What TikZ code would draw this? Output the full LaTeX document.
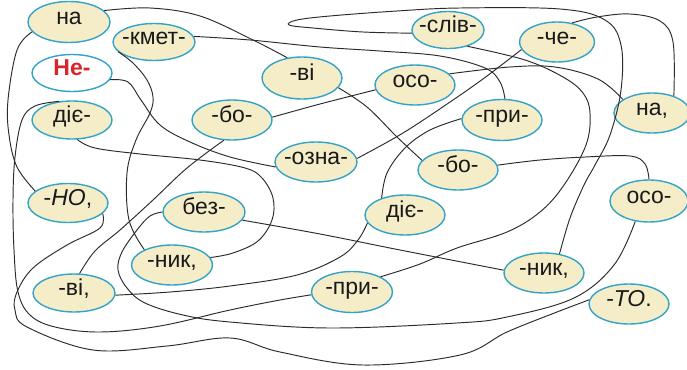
\documentclass[tikz,border=0pt]{standalone}
\usepackage{fontspec}
\setmainfont{Liberation Sans}
\usetikzlibrary{shapes.geometric}
\definecolor{bfill}{HTML}{F4EDC8}
\definecolor{bdraw}{HTML}{33A3C9}
\definecolor{lnk}{HTML}{2B2B2B}
\definecolor{nered}{HTML}{D7262B}
\begin{document}
\begin{tikzpicture}[x=1pt,y=-1pt,
  bub/.style={ellipse, draw=bdraw, fill=bfill, line width=1.4pt, minimum width=80pt, minimum height=40pt, inner sep=0pt},
  wtxt/.style={font=\fontsize{23}{27}\selectfont, text=black!90, inner sep=0pt, text height=0.52em, text depth=0pt},
  link/.style={draw=lnk, line width=0.95pt}]
\useasboundingbox (0,0) rectangle (687,369);
% nodes
\node[bub, minimum width=82pt, minimum height=41pt, label={[wtxt]center:{на}}] (na1) at (69,22) {};
\node[bub, minimum width=82pt, minimum height=37pt, label={[wtxt]center:{-кмет-}}] (kmet) at (154,42) {};
\node[bub, fill=white, minimum height=37pt, label={[wtxt,text=nered,font=\fontsize{23}{27}\selectfont\bfseries]center:{Не-}}] (ne) at (72,73) {};
\node[bub, minimum height=38pt, label={[wtxt]center:{діє-}}] (die1) at (72,120) {};
\node[bub, label={[wtxt]center:{-бо-}}] (bo1) at (232,120) {};
\node[bub, minimum height=42pt, label={[wtxt]center:{-ві}}] (vi1) at (302,78) {};
\node[bub, label={[wtxt]center:{осо-}}] (oso1) at (415,85) {};
\node[bub, minimum width=82pt, label={[wtxt]center:{-озна-}}] (ozna) at (316,162) {};
\node[bub, minimum width=72pt, minimum height=37pt, label={[wtxt]center:{-слів-}}] (slov) at (448,30) {};
\node[bub, minimum width=75pt, label={[wtxt]center:{-че-}}] (che) at (557,42) {};
\node[bub, minimum height=41pt, label={[wtxt]center:{-при-}}] (pri1) at (502,120) {};
\node[bub, minimum width=76pt, label={[wtxt]center:{на,}}] (nac) at (652,113) {};
\node[bub, label={[wtxt]center:{-бо-}}] (bo2) at (458,170) {};
\node[bub, minimum width=78pt, minimum height=42pt, label={[wtxt]center:{осо-}}] (oso2) at (649,201) {};
\node[bub, minimum height=39pt, label={[wtxt]center:{-\textit{НО},}}] (no) at (68,203) {};
\node[bub, minimum width=82pt, label={[wtxt]center:{без-}}] (bez) at (204,212) {};
\node[bub, label={[wtxt]center:{діє-}}] (die2) at (405,215) {};
\node[bub, minimum width=81pt, label={[wtxt]center:{-ник,}}] (nik1) at (172,265) {};
\node[bub, minimum width=82pt, minimum height=38pt, label={[wtxt]center:{-ві,}}] (vi2) at (74,293) {};
\node[bub, minimum width=81pt, minimum height=41pt, label={[wtxt]center:{-при-}}] (pri2) at (352,292) {};
\node[bub, label={[wtxt]center:{-ник,}}] (nik2) at (544,273) {};
\node[bub, label={[wtxt]center:{-\textit{ТО}.}}] (tto) at (629,304) {};
% connectors
\draw[link] plot[smooth,tension=.6] coordinates {(ne.-10) (128,82) (141,100) (160,125) (190,142) (230,157) (ozna.187)};
\draw[link] plot[smooth,tension=.6] coordinates {(ozna.5) (403,133) (453,100) (487,76) (che.192)};
\draw[link] plot[smooth,tension=.6] coordinates {(che.52) (597,17) (630,14) (660,21) (673,42) (nac.38)};
\draw[link] plot[smooth,tension=.6] coordinates {(nac.155) (598,79) (555,67) (510,67) (oso1.18)};
\draw[link] plot[smooth,tension=.6] coordinates {(oso1.187) (320,104) (bo1.4)};
\draw[link] plot[smooth,tension=.6] coordinates {(bo1.248) (187,168) (153,200) (120,230) (95,251) (vi2.74)};
\draw[link] plot[smooth,tension=.6] coordinates {(vi2.-3) (170,292) (230,286) (297,275) (340,257) (358,240) (die2.192)};
\draw[link] plot[smooth,tension=.6] coordinates {(die2.144) (387,173) (405,148) (430,130) (pri1.178)};
\draw[link] plot[smooth,tension=.6] coordinates {(pri1.82) (500,82) (485,68) (440,56) (380,51) (320,47) (250,40) (kmet.8)};
\draw[link] plot[smooth,tension=.6] coordinates {(kmet.195) (133,63) (147,80) (153,97) (150,113) (136,140) (127,173) (129,220) (nik1.151)};
\draw[link] plot[smooth,tension=.6] coordinates {(nik1.11) (233,253) (258,241) (272,220) (273,198) (262,178) (245,168) (200,160) (140,154) (95,148) (die1.285)};
\draw[link] plot[smooth,tension=.6] coordinates {(die1.125) (35,106) (22,120) (15,157) (13,200) (14,250) (18,292) (30,315) (55,327) (100,332) (160,326) (230,310) (280,300) (pri2.184)};
\draw[link] plot[smooth,tension=.6] coordinates {(pri2.28) (420,264) (457,248) (507,232) (540,212) (564,185) (586,145) (590,113) (583,93) (563,77) (525,60) (slov.-40)};
\draw[link] plot[smooth,tension=.6] coordinates {(slov.185) (363,32) (313,28) (289,25) (297,20) (330,16) (397,11) (460,8) (560,9) (605,20) (621,45) (621,90) (610,135) (595,165) (584,185) (570,218) (nik2.51)};
\draw[link] plot[smooth,tension=.6] coordinates {(nik2.176) (400,250) (320,234) (bez.-12)};
\draw[link] plot[smooth,tension=.6] coordinates {(bez.180) (150,216) (137,230) (122,252) (118,270) (127,288) (145,303) (183,315) (230,322) (330,328) (457,323) (507,317) (574,298) (614,265) (oso2.236)};
\draw[link] plot[smooth,tension=.6] coordinates {(oso2.90) (645,164) (630,156) (585,157) (540,160) (bo2.7)};
\draw[link] plot[smooth,tension=.6] coordinates {(bo2.165) (397,137) (367,107) (vi1.-15)};
\draw[link] plot[smooth,tension=.6] coordinates {(vi1.126) (253,40) (200,16) (150,8) (na1.18)};
\draw[link] plot[smooth,tension=.6] coordinates {(na1.195) (17,50) (8,100) (9,135) (17,167) (no.160)};
\draw[link] plot[smooth,tension=.6] coordinates {(no.-17) (100,228) (67,245) (33,268) (17,292) (15,310) (27,327) (93,350) (167,346) (230,338) (280,352) (363,365) (460,355) (507,332) (557,312) (tto.174)};
\end{tikzpicture}
\end{document}
